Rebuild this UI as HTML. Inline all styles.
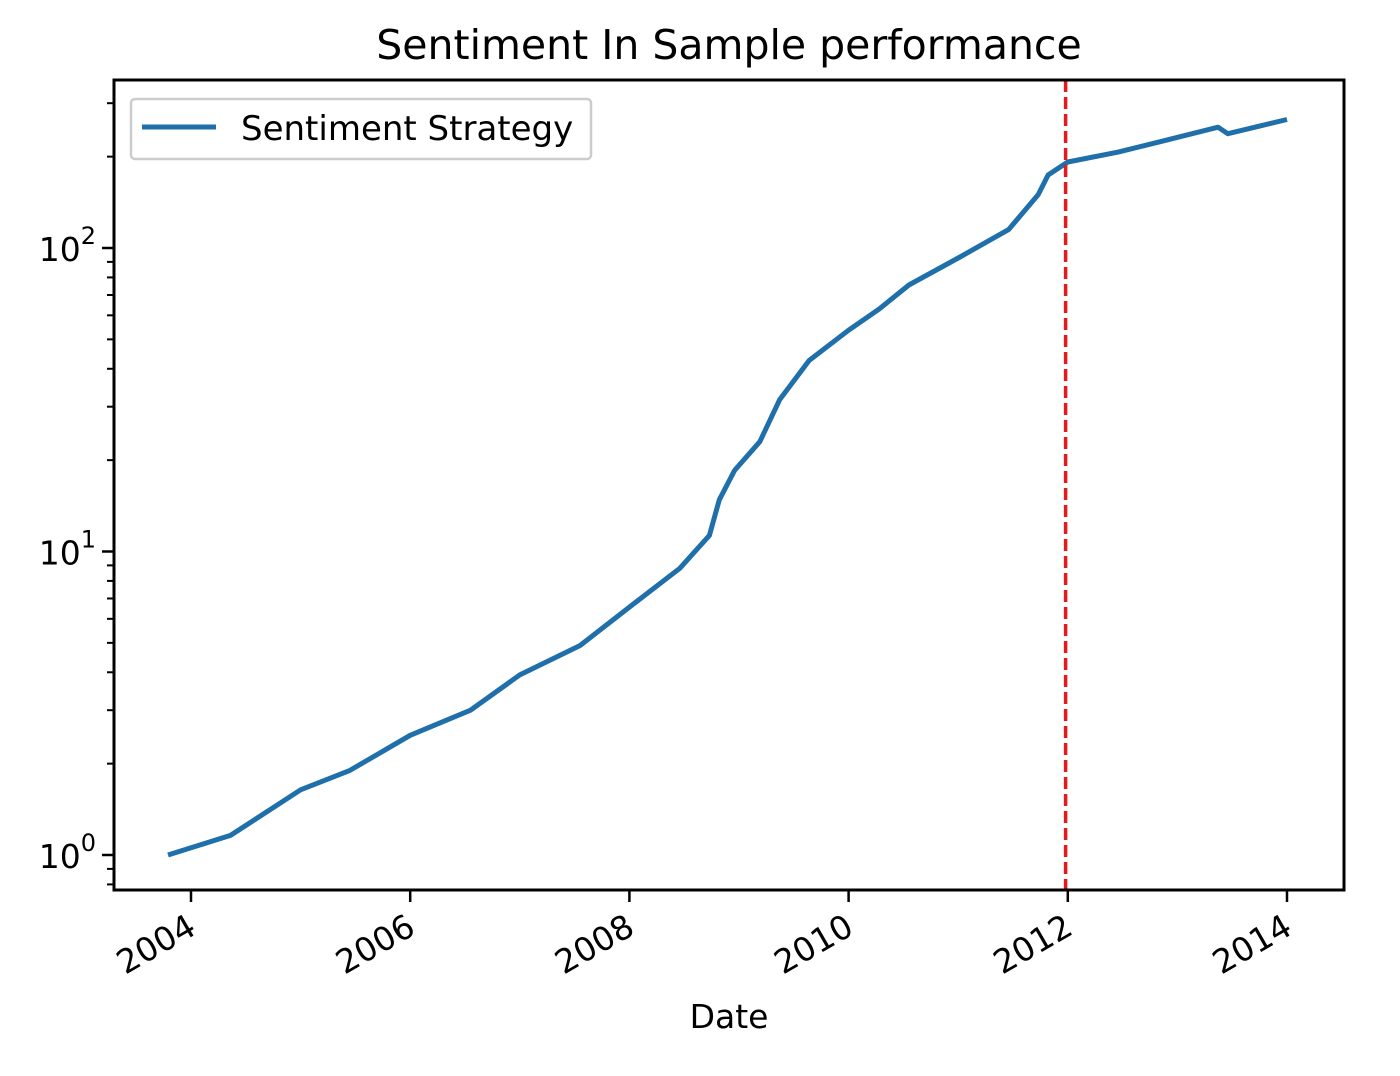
<!DOCTYPE html>
<html><head><meta charset="utf-8"><style>
body{margin:0;background:#fff;}
svg text{font-family:"DejaVu Sans","Liberation Sans",sans-serif;fill:#000;}
</style></head><body>
<svg id="chart" width="1400" height="1071" xmlns="http://www.w3.org/2000/svg">
<rect width="1400" height="1071" fill="#fff"/>
<text x="729" y="59" font-size="41" text-anchor="middle">Sentiment In Sample performance</text>
<g id="plot"></g>
<text x="729" y="1028" font-size="33" text-anchor="middle">Date</text>
</svg>
<script>
const years=[2003.79,2004.36,2005.0,2005.45,2006.0,2006.55,2007.0,2007.55,2008.0,2008.46,2008.73,2008.82,2008.96,2009.19,2009.37,2009.64,2010.0,2010.28,2010.55,2011.0,2011.46,2011.73,2011.82,2012.0,2012.46,2012.82,2013.37,2013.46,2014.0];
const values=[1.0,1.16,1.64,1.9,2.48,3.0,3.92,4.9,6.56,8.8,11.3,14.8,18.5,23,31.6,42.6,53.6,63,75.5,92.7,115,150,174,192,207,223,250,238,265];
const xTicks=[2004,2006,2008,2010,2012,2014];
const yDecades=[0,1,2];
const splitYear=2011.98;
const L=114,R=1344,T=80,B=890;
const xs=y=>191+(y-2004)*109.6;
const ys=v=>855-Math.log10(v)*303.5;
const NS="http://www.w3.org/2000/svg";
const g=document.getElementById('plot');
function mk(t,a,p){const e=document.createElementNS(NS,t);for(const k in a)e.setAttribute(k,a[k]);(p||g).appendChild(e);return e;}
let d=years.map((y,i)=>(i?'L':'M')+xs(y).toFixed(1)+','+ys(values[i]).toFixed(1)).join('');
const line=mk('path',{d:d,fill:'none',stroke:'#1f6fab','stroke-width':5,'stroke-linejoin':'round'});


const vl=mk('line',{x1:xs(splitYear),x2:xs(splitYear),y1:T,y2:B,stroke:'#e41a1c','stroke-width':3.5,'stroke-dasharray':'12,5'});


const fr=mk('rect',{x:L,y:T,width:R-L,height:B-T,fill:'none',stroke:'#000','stroke-width':3});


xTicks.forEach(y=>{const x=xs(y);
 mk('line',{x1:x,x2:x,y1:B,y2:B+12,stroke:'#000','stroke-width':2.5});
 const t=mk('text',{x:0,y:0,'font-size':33,'text-anchor':'end',transform:`translate(${x+7},${B+43}) rotate(-30)`});
 t.textContent=y;
 
 
});
yDecades.forEach(e=>{const y=ys(Math.pow(10,e));
 mk('line',{x1:L-12,x2:L,y1:y,y2:y,stroke:'#000','stroke-width':2.5});
 const t=mk('text',{x:L-18,y:y+13,'font-size':33,'text-anchor':'end'});
 t.textContent='10';
 const s=mk('tspan',{dy:-17,'font-size':24},t);s.textContent=String(e);
 
 
});
for(let e=-1;e<3;e++)for(let m=2;m<10;m++){const v=m*Math.pow(10,e);const y=ys(v);if(y<T||y>B)continue;
 mk('line',{x1:L-7,x2:L,y1:y,y2:y,stroke:'#000','stroke-width':2});}
const lg=mk('g',{});


mk('rect',{x:131,y:99,width:460,height:60,rx:4,fill:'#fff',stroke:'#ccc','stroke-width':2.5},lg);
mk('line',{x1:142,x2:216,y1:127,y2:127,stroke:'#1f6fab','stroke-width':5},lg);
const lt=mk('text',{x:241,y:140,'font-size':34},lg);lt.textContent='Sentiment Strategy';
</script>
</body></html>
